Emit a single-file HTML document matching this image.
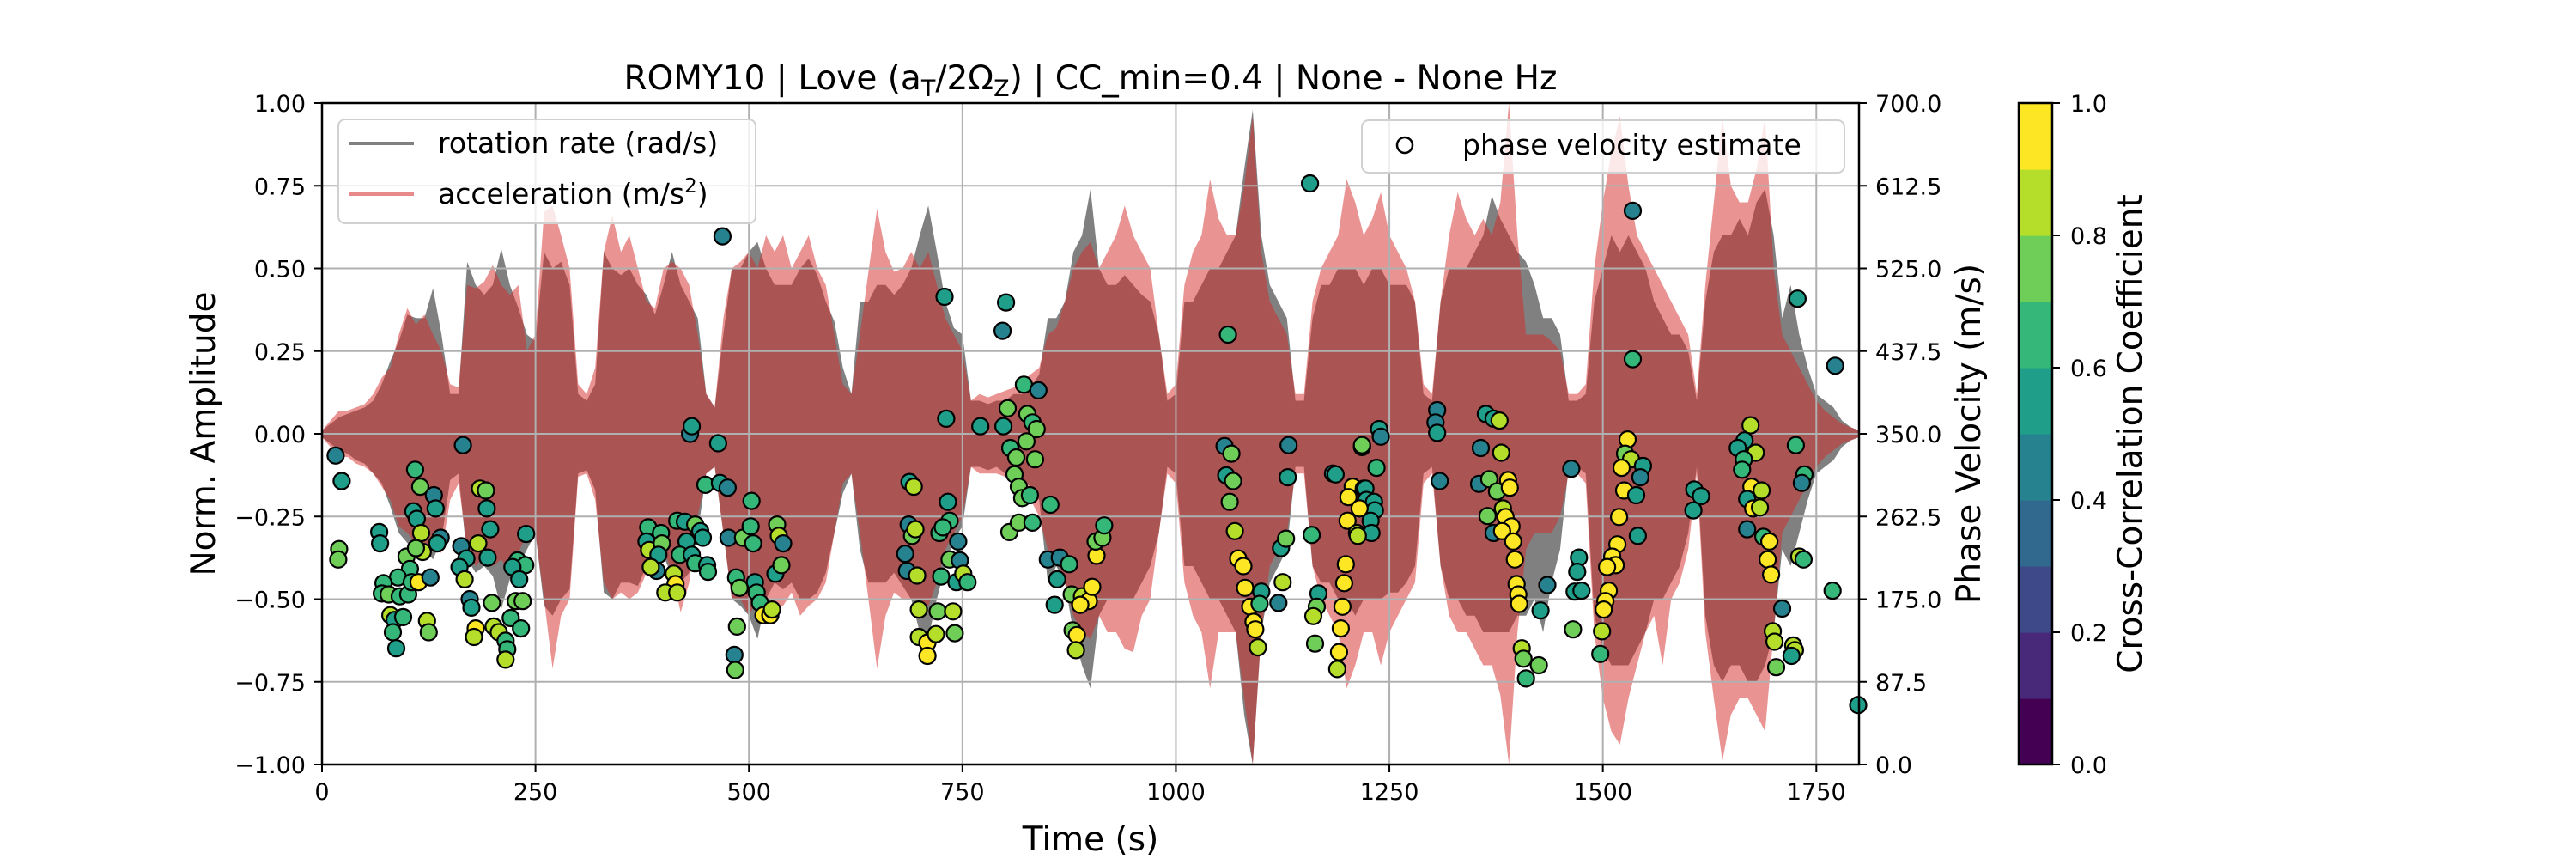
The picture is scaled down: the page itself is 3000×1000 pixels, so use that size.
<!DOCTYPE html>
<html><head><meta charset="utf-8">
<style>
html,body{margin:0;padding:0;background:#fff;}
svg{display:block;font-family:"DejaVu Sans","Liberation Sans",sans-serif;}
</style></head>
<body>
<svg id="chart" width="3000" height="1000" viewBox="0 0 3000 1000" xmlns="http://www.w3.org/2000/svg">
<rect x="0" y="0" width="3000" height="1000" fill="#fff"/>
<g id="wave"></g>
<g id="grid"></g>
<g id="pts"></g>
<g id="axes"></g>
<g id="cbar"></g>
<text x="1270" y="104" font-size="39" text-anchor="middle">ROMY10 | Love (a<tspan font-size="27" dy="8">T</tspan><tspan dy="-8">/2Ω</tspan><tspan font-size="27" dy="8">Z</tspan><tspan dy="-8">) | CC_min=0.4 | None - None Hz</tspan></text>
<text x="1270" y="990" font-size="39" text-anchor="middle">Time (s)</text>
<text transform="translate(250,505) rotate(-90)" font-size="39" text-anchor="middle">Norm. Amplitude</text>
<text transform="translate(2306,505) rotate(-90)" font-size="39" text-anchor="middle">Phase Velocity (m/s)</text>
<text transform="translate(2494,505) rotate(-90)" font-size="39" text-anchor="middle">Cross-Correlation Coefficient</text>
<g>
<rect x="394" y="139" width="486" height="121" rx="8" fill="#fff" fill-opacity="0.8" stroke="#d0d0d0" stroke-width="2"/>
<line x1="406" y1="167" x2="482" y2="167" stroke="#808080" stroke-width="4"/>
<text x="510" y="178" font-size="33">rotation rate (rad/s)</text>
<line x1="406" y1="226" x2="482" y2="226" stroke="#e88a8a" stroke-width="4"/>
<text x="510" y="237" font-size="33">acceleration (m/s<tspan font-size="23" dy="-13">2</tspan><tspan dy="13">)</tspan></text>
</g>
<g>
<rect x="1586" y="140" width="562" height="61" rx="8" fill="#fff" fill-opacity="0.8" stroke="#d0d0d0" stroke-width="2"/>
<circle cx="1636" cy="169" r="9" fill="none" stroke="#000" stroke-width="2.5"/>
<text x="1703" y="180" font-size="33">phase velocity estimate</text>
</g>
</svg>
<script>
// waveform envelopes sampled every 10 s (t = 0..1800)
const waveTimes = [];
for (let i = 0; i <= 180; i++) waveTimes.push(i * 10);
const accUpper = [.01,.04,.07,.07,.08,.09,.12,.17,.2,.3,.38,.33,.36,.3,.25,.15,.14,.45,.44,.46,.51,.45,.42,.45,.25,.3,.67,.69,.6,.5,.15,.12,.2,.55,.66,.55,.6,.5,.4,.38,.5,.52,.5,.45,.3,.12,.08,.35,.5,.52,.55,.5,.6,.55,.6,.5,.55,.6,.5,.45,.3,.15,.12,.3,.49,.68,.55,.49,.5,.55,.5,.55,.45,.35,.3,.25,.1,.12,.11,.12,.13,.14,.16,.18,.2,.3,.32,.4,.5,.55,.58,.5,.55,.6,.69,.6,.55,.5,.3,.12,.15,.45,.55,.6,.77,.65,.6,.6,.75,.96,.55,.4,.35,.3,.12,.12,.4,.5,.55,.6,.77,.7,.6,.65,.73,.6,.55,.5,.4,.15,.12,.4,.6,.73,.65,.6,.65,.6,.7,1.0,.6,.3,.3,.3,.28,.25,.12,.12,.15,.5,.7,.85,.96,.75,.6,.55,.5,.45,.4,.35,.3,.12,.45,.7,.96,.75,.7,.7,.8,.96,.5,.3,.25,.2,.15,.1,.07,.05,.03,.02,.01];
const rotUpper = [.01,.03,.05,.06,.07,.08,.1,.15,.22,.28,.36,.35,.35,.44,.3,.12,.12,.52,.45,.42,.45,.56,.45,.38,.3,.28,.55,.5,.52,.45,.12,.1,.15,.55,.5,.48,.5,.45,.42,.36,.45,.55,.45,.4,.35,.12,.08,.3,.5,.5,.55,.58,.5,.45,.45,.45,.5,.53,.48,.4,.34,.2,.12,.4,.4,.45,.45,.42,.45,.5,.6,.69,.55,.4,.32,.3,.1,.1,.09,.1,.1,.12,.12,.14,.18,.35,.35,.4,.55,.6,.74,.5,.45,.45,.48,.45,.42,.4,.3,.1,.12,.4,.4,.45,.5,.5,.55,.6,.8,.98,.6,.45,.4,.35,.1,.1,.35,.45,.45,.5,.5,.5,.45,.5,.5,.45,.45,.45,.4,.12,.1,.4,.5,.5,.5,.55,.6,.72,.65,.6,.55,.52,.45,.35,.35,.3,.1,.1,.12,.4,.5,.6,.55,.6,.55,.5,.4,.35,.3,.3,.25,.1,.4,.55,.6,.6,.65,.6,.7,.74,.6,.35,.45,.3,.2,.12,.1,.08,.04,.02,.01];
const accLower = [-.01,-.04,-.07,-.07,-.09,-.1,-.12,-.16,-.2,-.28,-.3,-.33,-.33,-.35,-.36,-.2,-.15,-.35,-.4,-.37,-.4,-.38,-.42,-.36,-.3,-.3,-.5,-.71,-.55,-.5,-.13,-.12,-.2,-.45,-.5,-.48,-.5,-.48,-.42,-.38,-.35,-.42,-.54,-.45,-.25,-.12,-.1,-.3,-.5,-.5,-.55,-.5,-.5,-.53,-.52,-.48,-.55,-.52,-.5,-.45,-.3,-.15,-.12,-.3,-.5,-.71,-.55,-.48,-.5,-.5,-.5,-.52,-.45,-.35,-.3,-.25,-.1,-.12,-.12,-.12,-.13,-.15,-.18,-.2,-.25,-.35,-.38,-.45,-.55,-.6,-.62,-.55,-.6,-.6,-.65,-.66,-.55,-.5,-.3,-.12,-.15,-.45,-.55,-.6,-.77,-.6,-.6,-.6,-.8,-1,-.6,-.4,-.35,-.3,-.12,-.12,-.4,-.5,-.55,-.6,-.77,-.7,-.6,-.6,-.7,-.6,-.55,-.5,-.45,-.15,-.12,-.4,-.55,-.6,-.6,-.65,-.7,-.7,-.79,-1,-.6,-.35,-.3,-.3,-.3,-.25,-.12,-.12,-.15,-.6,-.8,-.9,-.94,-.8,-.7,-.6,-.55,-.7,-.5,-.45,-.35,-.12,-.6,-.8,-.99,-.85,-.8,-.8,-.85,-.9,-.6,-.3,-.25,-.2,-.15,-.1,-.07,-.05,-.03,-.02,-.01];
const rotLower = [-.01,-.03,-.05,-.06,-.08,-.09,-.12,-.15,-.22,-.3,-.33,-.36,-.35,-.38,-.32,-.14,-.12,-.38,-.42,-.4,-.43,-.53,-.44,-.4,-.35,-.3,-.52,-.55,-.5,-.47,-.12,-.11,-.17,-.48,-.5,-.45,-.45,-.46,-.4,-.36,-.37,-.43,-.45,-.42,-.3,-.12,-.1,-.3,-.5,-.52,-.55,-.62,-.5,-.45,-.47,-.45,-.5,-.5,-.48,-.42,-.3,-.18,-.12,-.35,-.45,-.45,-.45,-.42,-.46,-.5,-.6,-.62,-.5,-.4,-.32,-.28,-.1,-.1,-.11,-.1,-.12,-.13,-.14,-.16,-.2,-.45,-.4,-.45,-.6,-.7,-.77,-.55,-.5,-.5,-.5,-.5,-.45,-.4,-.3,-.1,-.12,-.4,-.4,-.45,-.5,-.5,-.55,-.6,-.85,-1,-.6,-.45,-.4,-.35,-.1,-.1,-.4,-.45,-.45,-.5,-.5,-.55,-.5,-.5,-.5,-.48,-.48,-.45,-.4,-.12,-.1,-.4,-.5,-.5,-.55,-.55,-.6,-.6,-.6,-.6,-.55,-.55,-.5,-.6,-.45,-.35,-.1,-.1,-.12,-.55,-.65,-.7,-.7,-.7,-.65,-.6,-.5,-.5,-.45,-.4,-.3,-.1,-.55,-.7,-.75,-.7,-.7,-.75,-.75,-.7,-.6,-.35,-.4,-.3,-.2,-.12,-.1,-.08,-.04,-.02,-.01];

// phase velocity estimates: time (s), velocity (m/s), cross-correlation coefficient
const ptTime = [16,23,20,19,67,68,109,115,131,133,107,111,116,118,99,103,89,72,70,78,91,101,105,113,127,139,135,110,80,85,83,95,87,123,125,165,185,192,193,197,163,183,169,161,167,194,173,175,180,178,199,201,207,215,217,215,221,233,227,235,229,238,223,231,239,469,431,433,464,449,466,475,503,476,493,502,505,382,380,383,397,398,394,392,385,416,425,437,443,446,427,419,433,437,451,452,412,414,402,416,485,489,507,509,513,517,525,527,531,538,533,535,540,486,483,484,
729,801,797,731,771,798,822,839,803,826,832,837,806,813,825,835,811,816,820,829,853,805,816,832,688,693,687,691,695,683,685,697,733,735,723,727,745,735,747,725,743,751,756,699,721,739,741,699,709,709,719,850,864,875,861,858,878,890,898,902,888,879,884,883,907,906,914,916,1061,1057,1065,1059,1067,1063,1069,1073,1079,1081,1087,1091,1093,1096,1100,1098,1120,1123,1129,1125,1132,1131,1159,1167,1165,1161,1163,1157,1184,1187,1218,1207,1202,1220,1201,1212,1199,1197,1195,1193,1191,1189,
1535,1728,1772,1535,1799,1306,1304,1306,1309,1363,1372,1379,1357,1381,1355,1367,1376,1389,1391,1383,1365,1386,1393,1372,1382,1395,1397,1399,1401,1402,1405,1407,1410,1425,1435,1427,1238,1240,1218,1235,1222,1223,1232,1233,1228,1229,1213,1215,1463,1472,1470,1467,1475,1465,1499,1497,1529,1526,1533,1522,1547,1544,1525,1539,1519,1541,1517,1511,1515,1505,1507,1503,1501,1607,1615,1606,1673,1666,1658,1679,1665,1663,1674,1686,1669,1676,1684,1669,1688,1695,1693,1697,1726,1736,1733,1730,1735,1769,1710,1699,1701,1703,1723,1725,1721];
const ptVel = [327,300,228,217,246,234,312,294,285,271,268,260,245,225,220,207,198,192,181,180,178,180,193,193,198,240,234,229,158,153,140,156,123,152,140,338,292,290,271,249,231,234,218,209,196,219,175,166,144,135,171,146,140,131,122,111,155,144,173,173,216,211,209,196,244,559,350,358,340,296,298,293,279,240,240,252,234,251,236,227,245,234,222,205,209,258,257,254,247,240,236,222,222,213,211,204,202,191,182,182,198,187,193,182,171,158,158,164,202,211,254,242,234,146,116,100,
495,489,459,366,358,358,402,396,377,371,362,355,335,325,342,323,307,294,282,285,275,246,256,256,299,294,254,242,249,223,205,200,278,258,245,251,236,217,216,199,193,202,193,164,162,162,139,135,129,115,138,217,219,212,196,169,180,178,173,188,169,142,137,121,221,236,240,253,455,337,329,306,300,278,247,218,210,187,167,151,143,124,183,170,171,229,239,193,338,304,243,181,167,157,128,615,308,307,336,294,283,292,258,245,212,192,167,144,119,101,
586,493,422,429,63,375,362,351,300,371,366,364,335,330,297,302,289,301,293,271,263,262,252,245,247,236,217,191,180,170,123,112,91,105,190,163,355,347,338,314,292,280,278,269,258,245,242,271,313,219,204,183,184,143,141,117,344,329,323,314,316,304,290,285,262,242,233,220,211,209,184,173,164,291,284,269,359,343,335,330,323,312,294,290,281,271,272,249,241,236,217,201,338,307,298,220,217,184,165,141,130,103,126,121,115];
const ptCC = [.45,.55,.75,.75,.55,.55,.65,.75,.45,.55,.55,.55,.85,.85,.75,.65,.65,.65,.65,.75,.65,.65,.65,.95,.45,.45,.55,.75,.85,.55,.65,.65,.55,.85,.75,.45,.85,.75,.55,.55,.45,.85,.55,.55,.85,.55,.45,.55,.95,.85,.75,.85,.85,.65,.65,.85,.65,.65,.75,.75,.65,.65,.55,.55,.55,.45,.45,.55,.55,.65,.55,.45,.65,.45,.75,.65,.65,.65,.55,.85,.65,.75,.55,.45,.85,.65,.55,.75,.55,.55,.55,.65,.55,.65,.55,.65,.85,.95,.85,.85,.65,.75,.55,.65,.65,.95,.95,.85,.55,.75,.75,.85,.45,.75,.45,.75,
.55,.55,.45,.55,.55,.55,.65,.45,.75,.75,.65,.75,.65,.75,.75,.75,.75,.75,.75,.65,.65,.75,.75,.65,.55,.85,.45,.75,.85,.45,.45,.85,.55,.65,.65,.65,.45,.75,.45,.65,.55,.85,.65,.85,.75,.85,.75,.85,.95,.95,.85,.45,.45,.65,.55,.55,.75,.85,.95,.95,.95,.75,.95,.85,.95,.75,.75,.65,.65,.45,.75,.55,.75,.75,.85,.95,.95,.95,.95,.95,.95,.85,.55,.65,.45,.55,.75,.85,.45,.55,.65,.55,.75,.85,.75,.55,.45,.55,.75,.95,.95,.55,.95,.85,.95,.95,.95,.95,.95,.85,
.45,.55,.45,.65,.55,.45,.45,.55,.45,.55,.55,.85,.45,.85,.45,.75,.75,.95,.95,.85,.75,.95,.95,.45,.95,.95,.95,.95,.95,.95,.85,.75,.65,.75,.45,.55,.55,.45,.75,.65,.55,.55,.55,.55,.55,.55,.85,.95,.45,.55,.55,.55,.55,.75,.85,.65,.95,.75,.85,.95,.55,.45,.95,.55,.95,.55,.95,.95,.95,.95,.95,.95,.95,.55,.55,.55,.85,.55,.55,.85,.65,.65,.95,.85,.55,.95,.85,.45,.65,.95,.95,.95,.65,.65,.45,.85,.65,.65,.45,.85,.85,.75,.85,.85,.55];

const xTicks = [0,250,500,750,1000,1250,1500,1750];
const yTicks = [-1,-0.75,-0.5,-0.25,0,0.25,0.5,0.75,1];
const yTickLabels = ['\u22121.00','\u22120.75','\u22120.50','\u22120.25','0.00','0.25','0.50','0.75','1.00'];
const velTickLabels = ['0.0','87.5','175.0','262.5','350.0','437.5','525.0','612.5','700.0'];
const cbTicks = [0,0.2,0.4,0.6,0.8,1.0];
const cbTickLabels = ['0.0','0.2','0.4','0.6','0.8','1.0'];
const viridis10 = ['#440154','#482878','#3e4989','#31688e','#26828e','#1f9e89','#35b779','#6ece58','#b5de2b','#fde725'];

const X0=375, X1=2165, Y0=120, Y1=890;
const xs = t => X0 + (t/1800)*(X1-X0);
const ys = v => Y0 + (1-v)/2*(Y1-Y0);
const yvel = u => Y0 + (700-u)/700*(Y1-Y0);
const NS='http://www.w3.org/2000/svg';
function mk(tag, attrs, parent){const e=document.createElementNS(NS,tag);for(const k in attrs)e.setAttribute(k,attrs[k]);parent.appendChild(e);return e;}

// waveforms
const wave=document.getElementById('wave');
function envPath(up, lo){
  let d='';
  for(let i=0;i<waveTimes.length;i++) d+=(i?'L':'M')+xs(waveTimes[i]).toFixed(1)+','+ys(up[i]).toFixed(1);
  for(let i=waveTimes.length-1;i>=0;i--) d+='L'+xs(waveTimes[i]).toFixed(1)+','+ys(lo[i]).toFixed(1);
  return d+'Z';
}
const g1=mk('path',{d:envPath(rotUpper,rotLower),fill:'#808080'},wave);


const r1=mk('path',{d:envPath(accUpper,accLower),fill:'#d62728','fill-opacity':'0.5'},wave);



// grid
const grid=document.getElementById('grid');
xTicks.forEach(t=>{const l=mk('line',{x1:xs(t),x2:xs(t),y1:Y0,y2:Y1,stroke:'#b0b0b0','stroke-width':2},grid);

});
yTicks.forEach(v=>{const l=mk('line',{x1:X0,x2:X1,y1:ys(v),y2:ys(v),stroke:'#b0b0b0','stroke-width':2},grid);

});

// points
const pts=document.getElementById('pts');
for(let i=0;i<ptTime.length;i++){
  const c=mk('circle',{cx:xs(ptTime[i]).toFixed(1),cy:yvel(ptVel[i]).toFixed(1),r:9.5,fill:viridis10[Math.min(9,Math.floor(ptCC[i]*10))],stroke:'#000','stroke-width':2.2},pts);
  
  
}

// axes
const axes=document.getElementById('axes');
const frame=mk('rect',{x:X0,y:Y0,width:X1-X0,height:Y1-Y0,fill:'none',stroke:'#000','stroke-width':2.5},axes);


xTicks.forEach(t=>{
  mk('line',{x1:xs(t),x2:xs(t),y1:Y1,y2:Y1+9,stroke:'#000','stroke-width':2},axes);
  const tx=mk('text',{x:xs(t),y:931,'font-size':27,'text-anchor':'middle'},axes);tx.textContent=t;
  
  
});
yTicks.forEach((v,i)=>{
  mk('line',{x1:X0-9,x2:X0,y1:ys(v),y2:ys(v),stroke:'#000','stroke-width':2},axes);
  const tl=mk('text',{x:356,y:ys(v)+10,'font-size':27,'text-anchor':'end'},axes);tl.textContent=yTickLabels[i];
  
  
  mk('line',{x1:X1,x2:X1+9,y1:ys(v),y2:ys(v),stroke:'#000','stroke-width':2},axes);
  const tr=mk('text',{x:2184,y:ys(v)+10,'font-size':27},axes);tr.textContent=velTickLabels[i];
  
  
});

// colorbar
const cb=document.getElementById('cbar');
const CX0=2351, CX1=2390;
for(let i=0;i<10;i++){
  const yA=Y1-(i+1)/10*(Y1-Y0), h=(Y1-Y0)/10;
  const s=mk('rect',{x:CX0,y:yA.toFixed(1),width:CX1-CX0,height:(h+0.6).toFixed(1),fill:viridis10[i]},cb);
  
  
}
mk('rect',{x:CX0,y:Y0,width:CX1-CX0,height:Y1-Y0,fill:'none',stroke:'#000','stroke-width':2.5},cb);
cbTicks.forEach((v,i)=>{
  const y=Y1-v*(Y1-Y0);
  mk('line',{x1:CX1,x2:CX1+9,y1:y,y2:y,stroke:'#000','stroke-width':2},cb);
  const t=mk('text',{x:2411,y:y+10,'font-size':27},cb);t.textContent=cbTickLabels[i];
  
  
});
</script>
</body></html>
